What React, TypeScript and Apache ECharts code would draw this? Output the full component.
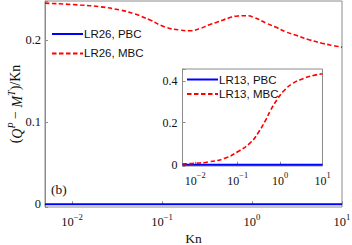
import React, { useEffect, useRef } from "react";
import * as echarts from "echarts";

// Main panel (LR26)
const mainKn = [0.005, 0.01227, 0.02047, 0.0341, 0.0501, 0.0736, 0.108, 0.158, 0.205, 0.264, 0.33, 0.42, 0.55, 0.698, 0.85, 1.026, 1.47, 1.85, 2.4, 3.16, 4.3, 6.0, 8.0, 10];
const mainMBC = [0.2450, 0.2427, 0.2406, 0.2366, 0.2317, 0.2244, 0.2159, 0.2122, 0.2113, 0.2142, 0.2183, 0.2222, 0.2268, 0.2294, 0.2296, 0.2281, 0.2202, 0.2155, 0.2098, 0.2055, 0.2005, 0.1962, 0.1933, 0.1914];
const mainPBCKn = [0.005, 10];
const mainPBC = [0, 0];

// Inset panel (LR13)
const insetKn = [0.005, 0.01, 0.02, 0.05, 0.1, 0.2, 0.3, 0.45, 0.6, 0.85, 1.2, 2, 3.5, 6, 10];
const insetMBC = [0.004, 0.007, 0.013, 0.031, 0.062, 0.105, 0.15, 0.21, 0.26, 0.31, 0.35, 0.388, 0.41, 0.425, 0.433];
const insetPBCKn = [0.005, 10];
const insetPBC = [0, 0];

const mainNames = ["LR26, PBC", "LR26, MBC"];
const insetNames = ["LR13, PBC", "LR13, MBC"];

const SERIF = "'Liberation Serif', 'DejaVu Serif', serif";
const SANS = "'Liberation Sans', Arial, sans-serif";
const AXIS = "#8c8c8c";
const MINUS = "\u2212";

const pair = (xs: number[], ys: number[]) => xs.map((x, i) => [x, ys[i]]);

const logLabel = (v: number) => {
  const l = Math.log10(v);
  const e = Math.round(l);
  if (Math.abs(l - e) > 1e-6) return "";
  const s = e < 0 ? MINUS + String(-e) : String(e);
  return "{b|10}{sup|" + s + "}";
};

const decLabel = (step: number) => (v: number) => {
  const k = v / step;
  if (Math.abs(k - Math.round(k)) > 1e-6) return "";
  const r = Math.round(k) * step;
  return r === 0 ? "0" : String(parseFloat(r.toFixed(3)));
};

const supRich = (size: number) => ({
  b: { fontFamily: SERIF, fontSize: size, color: "#111", lineHeight: size + 4, verticalAlign: "bottom" },
  sup: { fontFamily: SERIF, fontSize: size * 0.7, color: "#111", lineHeight: size + 4, verticalAlign: "top" },
});

export default function App() {
  const ref = useRef<HTMLDivElement>(null);
  useEffect(() => {
    if (!ref.current) return;
    const chart = echarts.init(ref.current, undefined, { renderer: "svg" });
    const xAxisBase = (gridIndex: number, size: number, margin: number) => ({
      type: "log",
      logBase: 10,
      gridIndex,
      min: 0.005,
      max: 10,
      axisLine: { show: true, lineStyle: { color: AXIS, width: 1 } },
      axisTick: { show: true, inside: true, length: 3, lineStyle: { color: AXIS } },
      minorTick: { show: false },
      splitLine: { show: false },
      axisLabel: {
        formatter: logLabel,
        margin,
        rich: supRich(size),
        showMinLabel: true,
        showMaxLabel: true,
      },
    });
    const legendBase = {
      orient: "vertical",
      padding: 0,
      itemWidth: 31,
      itemHeight: 10,
      itemStyle: { opacity: 0, borderWidth: 0, color: "transparent" },
      textStyle: { fontFamily: SANS, fontSize: 11.5, color: "#111", padding: [0, 0, 0, -4] },
    };
    chart.setOption({
      animation: false,
      backgroundColor: "#fff",
      grid: [
        { left: 45, top: 1, right: 10, bottom: 38, show: true, borderColor: AXIS, borderWidth: 1, backgroundColor: "#fff", outerBoundsMode: "none", containLabel: false },
        { left: 182.5, top: 69, width: 140, height: 97, show: true, borderColor: AXIS, borderWidth: 1, backgroundColor: "#fff", z: 5, outerBoundsMode: "none", containLabel: false },
      ],
      xAxis: [
        {
          ...xAxisBase(0, 12.5, 5),
          name: "Kn",
          nameLocation: "middle",
          nameGap: 24,
          nameMoveOverlap: false,
          nameTextStyle: { fontFamily: SERIF, fontSize: 13.5, color: "#111", lineHeight: 14 },
        },
        { ...xAxisBase(1, 12, 5), z: 6 },
      ],
      yAxis: [
        {
          type: "value",
          gridIndex: 0,
          min: -0.0033,
          max: 0.2476,
          splitNumber: 3,
          axisLine: { show: true, lineStyle: { color: AXIS } },
          axisTick: { show: true, inside: true, length: 3, lineStyle: { color: AXIS } },
          splitLine: { show: false },
          axisLabel: { formatter: decLabel(0.1), margin: 4, fontFamily: SERIF, fontSize: 12.5, color: "#111", showMinLabel: true, showMaxLabel: true },
          name: "({i|Q}{isup|P} " + MINUS + " {i|M}{isup|T})/Kn",
          nameLocation: "middle",
          nameRotate: 90,
          nameGap: 21,
          nameMoveOverlap: false,
          nameTextStyle: {
            fontFamily: SERIF,
            fontSize: 14,
            color: "#111",
            rich: {
              i: { fontFamily: SERIF, fontStyle: "italic", fontSize: 14, color: "#111", lineHeight: 18, verticalAlign: "bottom" },
              isup: { fontFamily: SERIF, fontStyle: "italic", fontSize: 10, color: "#111", lineHeight: 18, verticalAlign: "top" },
            },
          },
        },
        {
          type: "value",
          gridIndex: 1,
          min: -0.006,
          max: 0.456,
          splitNumber: 2,
          z: 6,
          axisLine: { show: true, lineStyle: { color: AXIS } },
          axisTick: { show: true, inside: true, length: 3, lineStyle: { color: AXIS } },
          splitLine: { show: false },
          axisLabel: { formatter: decLabel(0.2), margin: 5, fontFamily: SERIF, fontSize: 12, color: "#111", showMinLabel: true, showMaxLabel: true },
        },
      ],
      legend: [
        { ...legendBase, data: mainNames, left: 51, top: 28, itemGap: 7.4 },
        { ...legendBase, data: insetNames, left: 186, top: 73.5, itemGap: 2.6, z: 10 },
      ],
      graphic: [
        {
          type: "text",
          left: 51,
          top: 182,
          style: { text: "(b)", fontFamily: SERIF, fontSize: 13.5, fill: "#111" },
        },
      ],
      series: [
        {
          name: mainNames[0],
          type: "line",
          xAxisIndex: 0,
          yAxisIndex: 0,
          data: pair(mainPBCKn, mainPBC),
          symbol: "none",
          lineStyle: { color: "#0000ff", width: 2 },
          itemStyle: { color: "#0000ff" },
          z: 3,
        },
        {
          name: mainNames[1],
          type: "line",
          xAxisIndex: 0,
          yAxisIndex: 0,
          data: pair(mainKn, mainMBC),
          smooth: true,
          symbol: "none",
          lineStyle: { color: "#ff0000", width: 1.6, type: [4.5, 2.5] },
          itemStyle: { color: "#ff0000" },
          z: 3,
        },
        {
          name: insetNames[0],
          type: "line",
          xAxisIndex: 1,
          yAxisIndex: 1,
          data: pair(insetPBCKn, insetPBC),
          symbol: "none",
          lineStyle: { color: "#0000ff", width: 2 },
          itemStyle: { color: "#0000ff" },
          z: 8,
        },
        {
          name: insetNames[1],
          type: "line",
          xAxisIndex: 1,
          yAxisIndex: 1,
          data: pair(insetKn, insetMBC),
          smooth: true,
          symbol: "none",
          lineStyle: { color: "#ff0000", width: 1.6, type: [4.5, 2.5] },
          itemStyle: { color: "#ff0000" },
          z: 8,
        },
      ],
    });
    return () => chart.dispose();
  }, []);
  return <div ref={ref} style={{ width: 352, height: 245, position: "absolute", left: 0, top: 0 }} />;
}
